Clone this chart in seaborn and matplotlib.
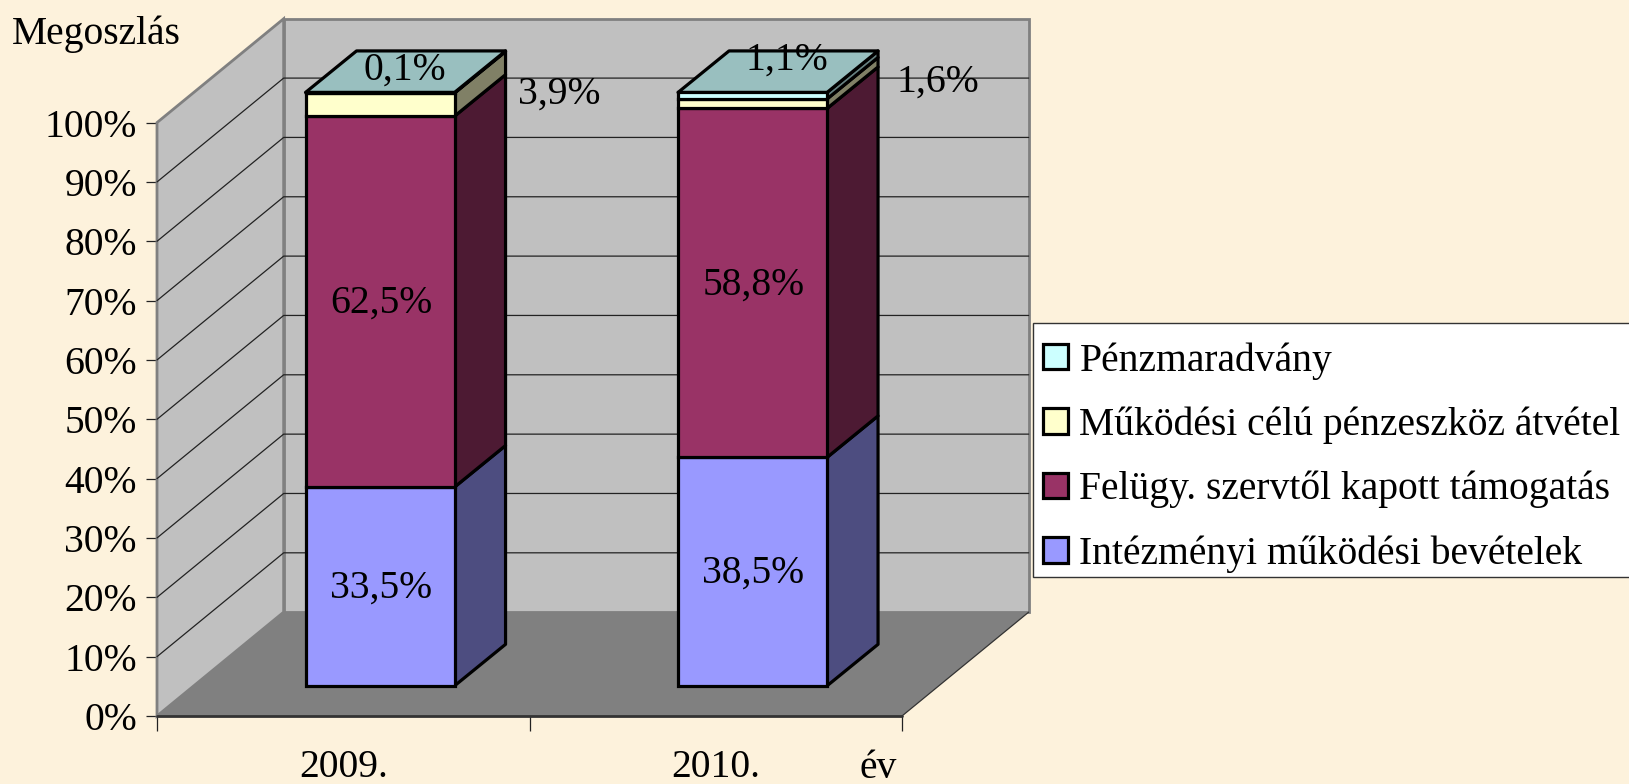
import matplotlib
matplotlib.use("Agg")
import matplotlib.pyplot as plt
import numpy as np
import seaborn as sns
from matplotlib.colors import to_rgb
from matplotlib.patches import Polygon, Rectangle

years = ["2009.", "2010."]
intezmenyi = [33.5, 38.5]
felugyeleti = [62.5, 58.8]
atvetel = [3.9, 1.6]
maradvany = [0.1, 1.1]

series_names = ["Intézményi működési bevételek", "Felügy. szervtől kapott támogatás",
                "Működési célú pénzeszköz átvétel", "Pénzmaradvány"]
series_values = [intezmenyi, felugyeleti, atvetel, maradvany]
series_colors = ["#9999FF", "#993366", "#FFFFCC", "#CCFFFF"]
value_labels = [["33,5%", "38,5%"], ["62,5%", "58,8%"], ["3,9%", "1,6%"], ["0,1%", "1,1%"]]
percent_ticks = list(range(0, 101, 10))

# label nudges in pixels, only the thin segments were moved in the original
label_nudge = {(2, 0): (179, 10), (2, 1): (185, 22), (3, 0): (25, 23), (3, 1): (34, 36)}
default_nudge = (1, -2)

BG = "#FDF2DC"
WALL = "#C0C0C0"
FLOOR = "#808080"
WALL_EDGE = "#808080"
FS = 28.5
W, H = 1629, 784

# 3d look, depth given in axis units
wall_dx, wall_dy = 0.34, 17.5
bar_dx, bar_dy = 0.137, 7.0
bar_off_x, bar_off_y = 0.0987, 5.08


def shade(color, k):
    return tuple(c * k for c in to_rgb(color))


sns.set_theme(style="white")
plt.rcParams["font.family"] = ["Liberation Serif", "DejaVu Serif"]

fig = plt.figure(figsize=(W / 100, H / 100), dpi=100, facecolor=BG)
ax = fig.add_axes([157 / W, 1 - 716 / H, (902 - 157) / W, (716 - 122.6) / H])
ax.patch.set_visible(False)

# stacked bars
bottom = np.zeros(len(years))
for name, vals, col in zip(series_names, series_values, series_colors):
    sns.barplot(x=years, y=vals, bottom=bottom, width=0.4, color=col, saturation=1,
                edgecolor="black", linewidth=2.3, label=name, errorbar=None, ax=ax, zorder=5)
    bottom = bottom + np.array(vals)
bars = list(ax.patches)

x0, x1 = -0.5, len(years) - 0.5
ax.set_xlim(x0, x1)
ax.set_ylim(0, 100)

# walls and floor
ax.add_patch(Polygon([(x0, 0), (x0, 100), (x0 + wall_dx, 100 + wall_dy), (x0 + wall_dx, wall_dy)],
                     fc=WALL, ec=WALL_EDGE, lw=2, clip_on=False, zorder=1))
ax.add_patch(Polygon([(x0 + wall_dx, wall_dy), (x0 + wall_dx, 100 + wall_dy),
                      (x1 + wall_dx, 100 + wall_dy), (x1 + wall_dx, wall_dy)],
                     fc=WALL, ec=WALL_EDGE, lw=2, clip_on=False, zorder=1))
ax.add_patch(Polygon([(x0, 0), (x1, 0), (x1 + wall_dx, wall_dy), (x0 + wall_dx, wall_dy)],
                     fc=FLOOR, ec="none", clip_on=False, zorder=1.5))
ax.plot([x0, x1], [0, 0], color="#333333", lw=2, clip_on=False, zorder=2)
ax.plot([x1, x1 + wall_dx], [0, wall_dy], color="#333333", lw=0.9, clip_on=False, zorder=2)

# gridlines, back wall and side wall
for p in percent_ticks[1:-1]:
    ax.plot([x0, x0 + wall_dx, x1 + wall_dx], [p, p + wall_dy, p + wall_dy],
            color="#222222", lw=0.9, clip_on=False, zorder=2)

# move front faces back and add the side and top faces
n_years = len(years)
for s, col in enumerate(series_colors):
    for i in range(n_years):
        bar = bars[s * n_years + i]
        bar.set_x(bar.get_x() + bar_off_x)
        bar.set_y(bar.get_y() + bar_off_y)
        bar.set_clip_on(False)
        left, right = bar.get_x(), bar.get_x() + bar.get_width()
        low, high = bar.get_y(), bar.get_y() + bar.get_height()
        ax.add_patch(Polygon([(right, low), (right + bar_dx, low + bar_dy),
                              (right + bar_dx, high + bar_dy), (right, high)],
                             fc=shade(col, 0.5), ec="black", lw=2.3, joinstyle="round",
                             clip_on=False, zorder=4))
        if s == len(series_colors) - 1:
            ax.add_patch(Polygon([(left, high), (right, high),
                                  (right + bar_dx, high + bar_dy), (left + bar_dx, high + bar_dy)],
                                 fc=shade(col, 0.75), ec="black", lw=2.3, joinstyle="round",
                                 clip_on=False, zorder=4))
        nudge = label_nudge.get((s, i), default_nudge)
        ax.annotate(value_labels[s][i], ((left + right) / 2, (low + high) / 2),
                    xytext=nudge, textcoords="offset pixels", ha="center", va="center",
                    fontsize=FS, color="black", annotation_clip=False, zorder=7)

# axes
sns.despine(ax=ax, left=True, bottom=True)
ax.set_yticks(percent_ticks, labels=[f"{p}%" for p in percent_ticks])
ax.set_xticks(np.arange(n_years + 1) - 0.5, labels=[""] * (n_years + 1))
ax.set_xticks(np.arange(n_years), labels=years, minor=True)
ax.tick_params(axis="y", which="major", left=True, length=8, width=0.9, color="#222222",
               pad=6.5, labelsize=FS, labelcolor="black")
ax.tick_params(axis="x", which="major", bottom=True, length=10.5, width=0.9, color="#222222")
ax.tick_params(axis="x", which="minor", bottom=False, length=0, pad=24, labelsize=FS,
               labelcolor="black")
ax.set_xlabel("")
ax.set_ylabel("")

fig.text(12 / W, 1 - 34 / H, "Megoszlás", fontsize=FS, color="black", ha="left", va="center")
fig.text(878 / W, 1 - 768 / H, "év", fontsize=FS, color="black", ha="center", va="center")

# legend box runs off the right edge of the picture
fig.add_artist(Rectangle((1033 / W, 1 - 577 / H), 700 / W, 254 / H, transform=fig.transFigure,
                         fc="white", ec="#333333", lw=1, zorder=9))
handles, labels = ax.get_legend_handles_labels()
leg = ax.legend(handles[::-1], labels[::-1], loc="upper left",
                bbox_to_anchor=(1043 / W, 1 - 342 / H), bbox_transform=fig.transFigure,
                fontsize=FS, frameon=False, borderpad=0, borderaxespad=0, labelspacing=0.68,
                handlelength=0.62, handleheight=0.62, handletextpad=0.3, labelcolor="black")
leg.set_zorder(10)
leg.remove()
fig.add_artist(leg)
for h in leg.get_patches():
    h.set_linewidth(2.3)
    h.set_edgecolor("black")

fig.savefig("out.png", dpi=100, facecolor=BG)
